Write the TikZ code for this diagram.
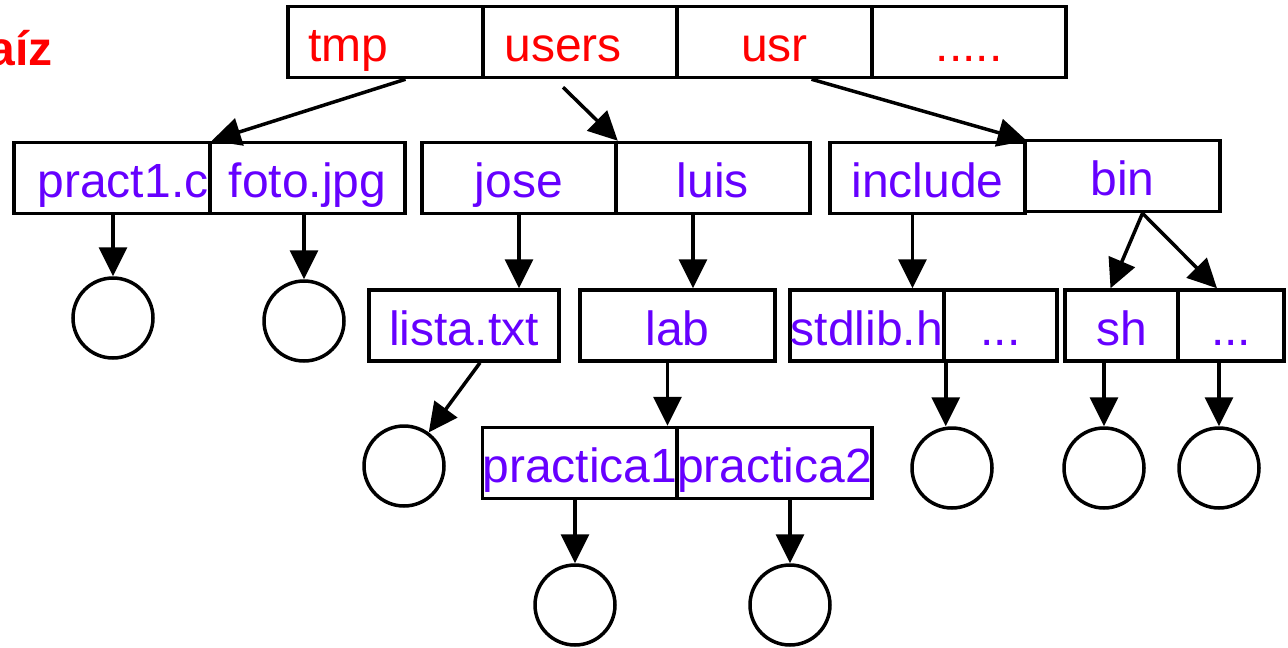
\documentclass[tikz,border=0pt]{standalone}
\usepackage{fontspec}
\setmainfont{Liberation Sans}
\usetikzlibrary{arrows.meta,calc}
\definecolor{dirred}{RGB}{255,0,0}
\definecolor{fileblue}{RGB}{102,0,255}
\begin{document}
\begin{tikzpicture}[x=1pt,y=-1pt,
  cell/.style={draw, line width=3.5pt, rectangle, inner sep=0pt, minimum height=71pt,
    text height=44pt, text depth=5pt, font=\fontsize{48}{52}\selectfont},
  dirtext/.style={text=dirred},
  filetext/.style={text=fileblue},
  leaf/.style={draw, circle, line width=3.5pt, minimum size=80pt, inner sep=0pt},
  link/.style={line width=3.5pt, -{Triangle[length=29pt,width=28pt]}}]
\useasboundingbox (0,0) rectangle (1288,648);
% title (cut off at the left edge, as in the reference)
\node[anchor=base east, inner sep=0pt, text=dirred, font=\fontsize{48}{52}\selectfont\bfseries] (title) at (53,65) {Raíz};
% top row
\node[cell, dirtext, minimum width=195pt] (tmp) at (385.5,42) {tmp\hspace*{74pt}};
\node[cell, dirtext, minimum width=194pt] (users) at (580,42) {users\hspace*{34pt}};
\node[cell, dirtext, minimum width=195pt] (usr) at (774.5,42) {usr};
\node[cell, dirtext, minimum width=194pt] (more) at (969,42) {.....};
% second row
\node[cell, filetext, minimum width=196pt] (pract) at (112,178) {\hspace*{22pt}pract1.c};
\node[cell, filetext, minimum width=195pt] (foto) at (307.5,178) {foto.jpg};
\node[cell, filetext, minimum width=194pt] (jose) at (519,178) {jose};
\node[cell, filetext, minimum width=194pt] (luis) at (713,178) {luis};
\node[cell, filetext, minimum width=195pt] (include) at (927.5,178) {include};
\node[cell, filetext, minimum width=195pt] (bin) at (1122.5,176) {bin};
% third row
\node[cell, filetext, minimum width=190pt] (lista) at (464,325.5) {lista.txt};
\node[cell, filetext, minimum width=195pt] (lab) at (677.5,325.5) {lab};
\node[cell, filetext, minimum width=154pt] (stdlib) at (867,325.5) {stdlib.h};
\node[cell, filetext, minimum width=113pt] (incmore) at (1000.5,325.5) {...};
\node[cell, filetext, minimum width=113pt] (sh) at (1121.5,325.5) {sh};
\node[cell, filetext, minimum width=106pt] (binmore) at (1231,325.5) {...};
% fourth row
\node[cell, filetext, minimum width=194pt] (p1) at (580,463) {practica1};
\node[cell, filetext, minimum width=195pt] (p2) at (774.5,463) {practica2};
% leaves
\node[leaf] (c1) at (113,318) {};
\node[leaf] (c2) at (304,321) {};
\node[leaf] (c3) at (404,466) {};
\node[leaf] (c4) at (575,605) {};
\node[leaf] (c5) at (790,605) {};
\node[leaf] (c6) at (952,468) {};
\node[leaf] (c7) at (1104,468) {};
\node[leaf] (c8) at (1219,468) {};
% connectors
\draw[link] ([xshift=20pt]tmp.south) -- (pract.north east);
\draw[link] ([xshift=-17pt,yshift=-8pt]users.south) -- (jose.north east);
\draw[link] ([xshift=37pt]usr.south) -- (include.north east);
\draw[link] (c1.north |- pract.south) -- (c1.north);
\draw[link] (c2.north |- foto.south) -- (c2.north);
\draw[link] (jose.south) -- (jose.south |- lista.north);
\draw[link] ([xshift=-20pt]luis.south) -- ([xshift=-20pt]luis.south |- lab.north);
\draw[link] ([xshift=-15pt]include.south) -- ([xshift=-15pt]include.south |- stdlib.north);
\draw[link] ([xshift=20pt]bin.south) -- ([xshift=-11pt]sh.north);
\draw[link] ([xshift=20pt]bin.south) -- ([xshift=-14pt]binmore.north);
\draw[link] ([xshift=16pt]lista.south) -- (c3);
\draw[link] ([xshift=-10pt]lab.south) -- ([xshift=-10pt]lab.south |- p1.north);
\draw[link] (stdlib.south east) -- (stdlib.south east |- c6.north);
\draw[link] (c7.north |- sh.south) -- (c7.north);
\draw[link] (c8.north |- binmore.south) -- (c8.north);
\draw[link] (c4.north |- p1.south) -- (c4.north);
\draw[link] (c5.north |- p2.south) -- (c5.north);
\end{tikzpicture}
\end{document}
